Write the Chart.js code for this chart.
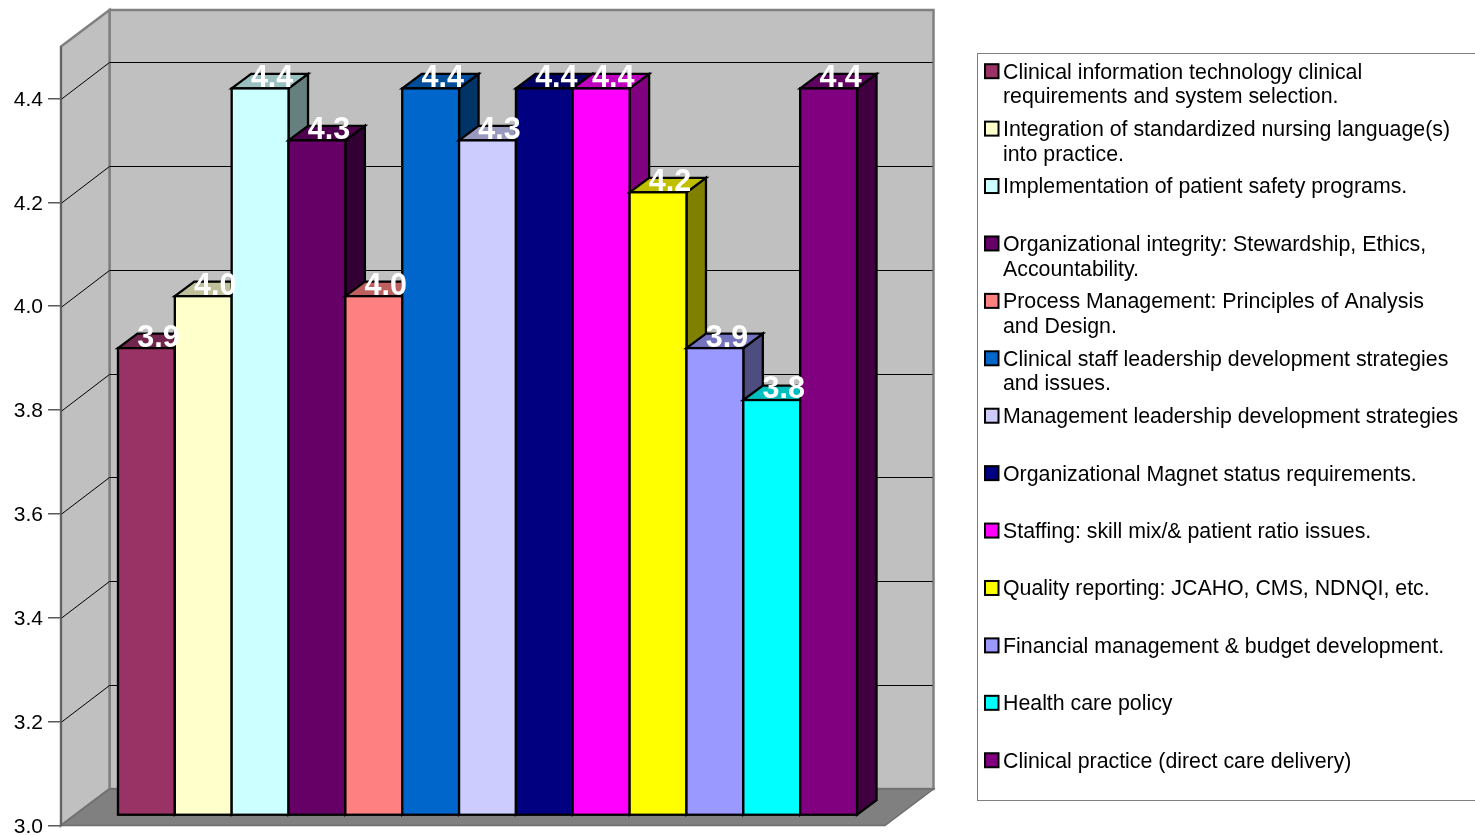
<!DOCTYPE html>
<html>
<head>
<meta charset="utf-8">
<style>
  html, body { margin: 0; padding: 0; background: #fff; overflow: hidden; }
  canvas { display: block; }
</style>
<script src="https://cdn.jsdelivr.net/npm/chart.js@4/dist/chart.umd.min.js"></script>
</head>
<body>
<canvas id="chart" width="1475" height="835"></canvas>
<script>
const categories = [''];
const seriesNames = [
  ['Clinical information technology clinical', 'requirements and system selection.'],
  ['Integration of standardized nursing language(s)', 'into practice.'],
  ['Implementation of patient safety programs.'],
  ['Organizational integrity: Stewardship, Ethics,', 'Accountability.'],
  ['Process Management: Principles of Analysis', 'and Design.'],
  ['Clinical staff leadership development strategies', 'and issues.'],
  ['Management leadership development strategies'],
  ['Organizational Magnet status requirements.'],
  ['Staffing: skill mix/& patient ratio issues.'],
  ['Quality reporting: JCAHO, CMS, NDNQI, etc.'],
  ['Financial management & budget development.'],
  ['Health care policy'],
  ['Clinical practice (direct care delivery)']
];
const seriesValues = [3.9, 4.0, 4.4, 4.3, 4.0, 4.4, 4.3, 4.4, 4.4, 4.2, 3.9, 3.8, 4.4];
const seriesColors = [
  [0x99, 0x33, 0x66], [0xFF, 0xFF, 0xCC], [0xCC, 0xFF, 0xFF], [0x66, 0x00, 0x66],
  [0xFF, 0x80, 0x80], [0x00, 0x66, 0xCC], [0xCC, 0xCC, 0xFF], [0x00, 0x00, 0x80],
  [0xFF, 0x00, 0xFF], [0xFF, 0xFF, 0x00], [0x99, 0x99, 0xFF], [0x00, 0xFF, 0xFF],
  [0x80, 0x00, 0x80]
];
const AXIS_MIN = 3.0, AXIS_MAX = 4.5, AXIS_STEP = 0.2;

const FONT = '"Liberation Sans", Arial, sans-serif';
// Depth of the box (front plane to back wall) and of the bar row inside it.
const WALL_DX = 48.5, WALL_DY = -36.5;
const ROW_DX = 14.5, ROW_DY = -10;
const BAR_DX = 19.5, BAR_DY = -14.5;

const shade = (rgb, k) => `rgb(${rgb.map(c => Math.round(c * k)).join(',')})`;

function polygon(ctx, pts, fill, stroke, width) {
  ctx.beginPath();
  pts.forEach((p, i) => (i ? ctx.lineTo(p[0], p[1]) : ctx.moveTo(p[0], p[1])));
  ctx.closePath();
  if (fill) { ctx.fillStyle = fill; ctx.fill(); }
  if (stroke) { ctx.strokeStyle = stroke; ctx.lineWidth = width; ctx.lineJoin = 'miter'; ctx.stroke(); }
}

const boxPlugin = {
  id: 'box3d',
  // Walls, floor and grid first, then the bars from left to right so that
  // each front face overlaps the side face of its left neighbour.
  beforeDatasetsDraw(chart) {
    const { ctx, chartArea: a, scales: { y } } = chart;
    const L = a.left, R = a.right, T = a.top, B = a.bottom;
    ctx.save();
    polygon(ctx, [[L + WALL_DX, T + WALL_DY], [R + WALL_DX, T + WALL_DY], [R + WALL_DX, B + WALL_DY], [L + WALL_DX, B + WALL_DY]],
      '#C0C0C0', '#808080', 2.5);
    polygon(ctx, [[L, T], [L + WALL_DX, T + WALL_DY], [L + WALL_DX, B + WALL_DY], [L, B]],
      '#C0C0C0', '#808080', 2.5);
    polygon(ctx, [[L, B], [L + WALL_DX, B + WALL_DY], [R + WALL_DX, B + WALL_DY], [R, B]],
      '#808080', '#6E6E6E', 1.5);
    ctx.strokeStyle = '#000';
    ctx.lineWidth = 1;
    y.ticks.forEach(t => {
      if (t.value === y.min) return;
      const py = Math.ceil(y.getPixelForValue(t.value)) + 0.5;
      const backY = Math.round(py + WALL_DY) - 0.5;
      ctx.beginPath();
      ctx.moveTo(L, py);
      ctx.lineTo(L + WALL_DX, backY);
      ctx.lineTo(R + WALL_DX - 1, backY);
      ctx.stroke();
    });
    ctx.strokeStyle = '#5A5A5A';
    ctx.lineWidth = 1.5;
    ctx.beginPath();
    ctx.moveTo(L, T);
    ctx.lineTo(L, B);
    ctx.stroke();
    ctx.restore();

    seriesValues.forEach((v, i) => {
      const meta = chart.getDatasetMeta(i);
      const { x, y: top, base, width } = meta.data[0].getProps(['x', 'y', 'base', 'width'], true);
      const l = x - width / 2 + ROW_DX, r = x + width / 2 + ROW_DX;
      const t = top + ROW_DY, b = base + ROW_DY;
      const rgb = seriesColors[i];
      polygon(ctx, [[r, t], [r + BAR_DX, t + BAR_DY], [r + BAR_DX, b + BAR_DY], [r, b]], shade(rgb, 0.5), '#000', 2.3);
      polygon(ctx, [[l, t], [l + BAR_DX, t + BAR_DY], [r + BAR_DX, t + BAR_DY], [r, t]], shade(rgb, 0.75), '#000', 2.3);
      ctx.save();
      ctx.translate(ROW_DX, ROW_DY);
      meta.controller.draw();
      ctx.restore();
      ctx.save();
      ctx.strokeStyle = '#000';
      ctx.lineWidth = 2.3;
      ctx.strokeRect(l, t, width, b - t);
      ctx.restore();
    });
  },
  // The bars were already painted in order above; skip the default pass.
  beforeDatasetDraw() {
    return false;
  },
  // Value labels sit above every bar, centred over the top face.
  afterDatasetsDraw(chart) {
    const { ctx } = chart;
    ctx.save();
    ctx.font = `bold 30.5px ${FONT}`;
    ctx.fillStyle = '#fff';
    ctx.textAlign = 'center';
    ctx.textBaseline = 'middle';
    seriesValues.forEach((v, i) => {
      const bar = chart.getDatasetMeta(i).data[0];
      const { x, y } = bar.getProps(['x', 'y'], true);
      ctx.fillText(v.toFixed(1), x + ROW_DX + 12, y + ROW_DY - 10);
    });
    ctx.restore();
  }
};

// Key panel: wrapped series names with a swatch beside each first line.
const keyPlugin = {
  id: 'keyPanel',
  afterDraw(chart) {
    const { ctx } = chart;
    const PANEL = { x: 977.5, y: 53.5, w: 520, h: 747 };
    const firstRow = 72.7, rowGap = 57.42, lineGap = 24.8;
    ctx.save();
    ctx.strokeStyle = '#808080';
    ctx.lineWidth = 1;
    ctx.fillStyle = '#fff';
    ctx.fillRect(PANEL.x, PANEL.y, PANEL.w, PANEL.h);
    ctx.strokeRect(PANEL.x, PANEL.y, PANEL.w, PANEL.h);
    ctx.font = `21.33px ${FONT}`;
    ctx.textBaseline = 'middle';
    ctx.textAlign = 'left';
    seriesNames.forEach((lines, i) => {
      const rowY = firstRow + i * rowGap;
      ctx.fillStyle = shade(seriesColors[i], 1);
      ctx.fillRect(985, rowY - 8.5, 13.5, 14);
      ctx.strokeStyle = '#000';
      ctx.lineWidth = 2;
      ctx.strokeRect(985, rowY - 8.5, 13.5, 14);
      ctx.fillStyle = '#000';
      lines.forEach((line, k) => ctx.fillText(line, 1003, rowY + k * lineGap));
    });
    ctx.restore();
  }
};

new Chart(document.getElementById('chart'), {
  type: 'bar',
  data: {
    labels: categories,
    datasets: seriesValues.map((v, i) => ({
      label: seriesNames[i].join(' '),
      data: [v],
      base: AXIS_MIN,
      backgroundColor: shade(seriesColors[i], 1),
      borderWidth: 0
    }))
  },
  options: {
    responsive: false,
    animation: false,
    layout: { padding: { left: 0, right: 590, top: 46.5, bottom: 9.5 } },
    datasets: { bar: { barPercentage: 1, categoryPercentage: 0.8969 } },
    scales: {
      x: { display: false, grid: { display: false } },
      y: {
        min: AXIS_MIN,
        max: AXIS_MAX,
        afterFit(scale) {
          scale.width = 61;
          scale.paddingTop = 0;
          scale.paddingBottom = 0;
          // Nudge the tick text so the digits centre on their tick marks.
          if (!scale.labelsNudged) {
            const drawLabels = scale.drawLabels;
            scale.drawLabels = function (area) {
              scale.ctx.save();
              scale.ctx.translate(0, 1.5);
              drawLabels.call(scale, area);
              scale.ctx.restore();
            };
            scale.labelsNudged = true;
          }
        },
        border: { display: false },
        grid: { drawOnChartArea: false, drawTicks: true, tickLength: 13, color: '#5A5A5A', lineWidth: 1.5 },
        ticks: {
          stepSize: AXIS_STEP,
          includeBounds: false,
          padding: 5,
          color: '#000',
          font: { family: FONT, size: 21 },
          callback: v => Number(v).toFixed(1)
        }
      }
    },
    plugins: { legend: { display: false }, tooltip: { enabled: false } }
  },
  plugins: [boxPlugin, keyPlugin]
});
</script>
</body>
</html>
